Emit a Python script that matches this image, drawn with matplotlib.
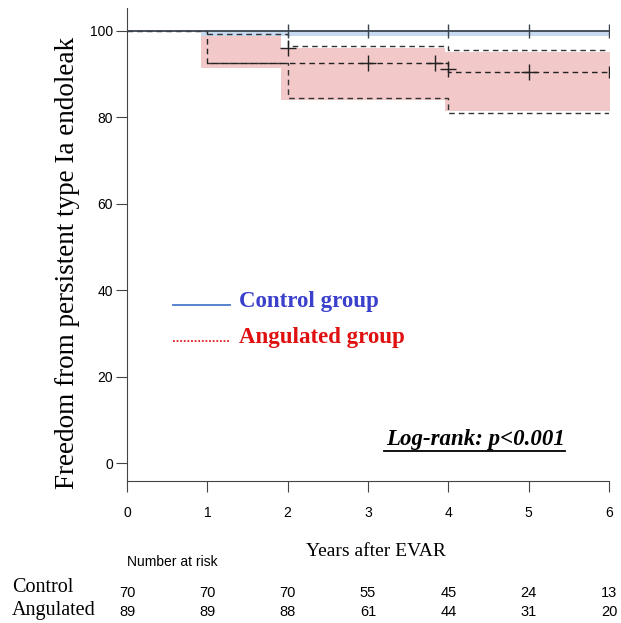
import matplotlib.pyplot as plt
import numpy as np

# x axis / risk table
years = [0, 1, 2, 3, 4, 5, 6]
risk_control = [70, 70, 70, 55, 45, 24, 13]
risk_angulated = [89, 89, 88, 61, 44, 31, 20]

# control group (no events)
ctrl_t = [0, 6]
ctrl_s = [100, 100]
ctrl_censor_t = [2, 3, 4, 5, 6]
ctrl_band_t = [0.92, 6.07]
ctrl_band_lo = [98.8, 98.8]
ctrl_band_hi = [100, 100]

# angulated group
ang_t = [0, 1, 4, 6]
ang_s = [100, 92.5, 90.4, 90.4]
ang_up_t = [1, 2, 4, 6]
ang_up = [99.3, 96.4, 95.5, 95.5]
ang_lo_t = [1, 2, 4, 6]
ang_lo = [92.5, 84.5, 81.0, 81.0]
ang_censor_t = [2, 3, 3.83, 4.0, 5]
ang_censor_s = [96.0, 92.5, 92.5, 91.1, 90.4]
ang_band_t = [0.92, 1.92, 3.96, 6.07]
ang_band_lo = [91.4, 84.1, 81.4, 81.4]
ang_band_hi = [99.1, 96.0, 95.2, 95.2]

serif = ['Liberation Serif', 'DejaVu Serif']
sans = ['Liberation Sans', 'DejaVu Sans']

fig = plt.figure(figsize=(6.21, 6.23), dpi=100)
ax = fig.add_axes([127 / 621, 1 - 481 / 623, (609 - 127) / 621, (481 - 8) / 623])

ax.fill_between(ang_band_t, ang_band_lo, ang_band_hi, step='post',
                color='#f2c8c8', lw=0)
ax.fill_between(ctrl_band_t, ctrl_band_lo, ctrl_band_hi, step='post',
                color='#c6d9ee', lw=0)

dash = (0, (4, 3))
ax.step(ang_up_t, ang_up, where='post', color='#333333', lw=1, ls=dash)
ax.step(ang_lo_t, ang_lo, where='post', color='#333333', lw=1, ls=dash)
ax.step(ang_t, ang_s, where='post', color='#222222', lw=1, ls=dash)
ax.plot(ang_censor_t, ang_censor_s, ls='none', marker='+', ms=11,
        mew=1, color='#222222')
ax.plot([6], [ang_s[-1]], ls='none', marker='|', ms=9, mew=1, color='#222222')

ax.plot(ctrl_t, ctrl_s, color='#3c4450', lw=1.3)
ax.plot(ctrl_censor_t, [100] * len(ctrl_censor_t), ls='none', marker='|',
        ms=10, mew=1, color='#3c4450')

ax.set_xlim(0, 6)
ax.set_ylim(-4.1, 105.3)
ax.set_xticks(years)
ax.set_yticks([0, 20, 40, 60, 80, 100])
ax.spines['top'].set_visible(False)
ax.spines['right'].set_visible(False)
for s in ('left', 'bottom'):
    ax.spines[s].set_color('#444444')
ax.tick_params(length=8, color='#444444', labelsize=10)
ax.tick_params(axis='x', pad=10)
ax.tick_params(axis='y', pad=2)
for lab in ax.get_xticklabels() + ax.get_yticklabels():
    lab.set_family(sans)

fig.text(68 / 621, 1 - 263 / 623, 'Freedom from persistent type Ia endoleak',
         family=serif, fontsize=19.5, rotation=90, ha='center', va='center')

# legend
ax.plot([0.57, 1.28], [36.5, 36.5], color='#4a78c8', lw=1.3)
ax.plot([0.57, 1.28], [28.2, 28.2], color='#e02020', lw=1.3, ls=(0, (1, 1)))
ax.text(1.4, 37.4, 'Control group', color='#3a3fcc', family=serif,
        fontweight='bold', fontsize=16.5, va='center')
ax.text(1.4, 29.1, 'Angulated group', color='#e01010', family=serif,
        fontweight='bold', fontsize=16.5, va='center')

ax.text(5.45, 5.5, 'Log-rank: p<0.001', family=serif, fontweight='bold',
        style='italic', fontsize=16.5, ha='right', va='center')
ax.plot([3.2, 5.45], [2.8, 2.8], color='black', lw=1.3, clip_on=False)

fig.text(376 / 621, 1 - 552 / 623, 'Years after EVAR', family=serif,
         fontsize=14, ha='center', va='center')
fig.text(127 / 621, 1 - 562 / 623, 'Number at risk', family=sans,
         fontsize=10, ha='left', va='center')
fig.text(12 / 621, 1 - 587 / 623, 'Control', family=serif, fontsize=14.5,
         ha='left', va='center')
fig.text(12 / 621, 1 - 611 / 623, 'Angulated', family=serif, fontsize=14.5,
         ha='left', va='center')
for yr, c, a in zip(years, risk_control, risk_angulated):
    xf = ax.transData.transform((yr, 0))[0] / fig.bbox.width
    fig.text(xf, 1 - 593 / 623, str(c), family=sans, fontsize=10.5,
             ha='center', va='center')
    fig.text(xf, 1 - 612 / 623, str(a), family=sans, fontsize=10.5,
             ha='center', va='center')

fig.savefig('out.png', dpi=100)
